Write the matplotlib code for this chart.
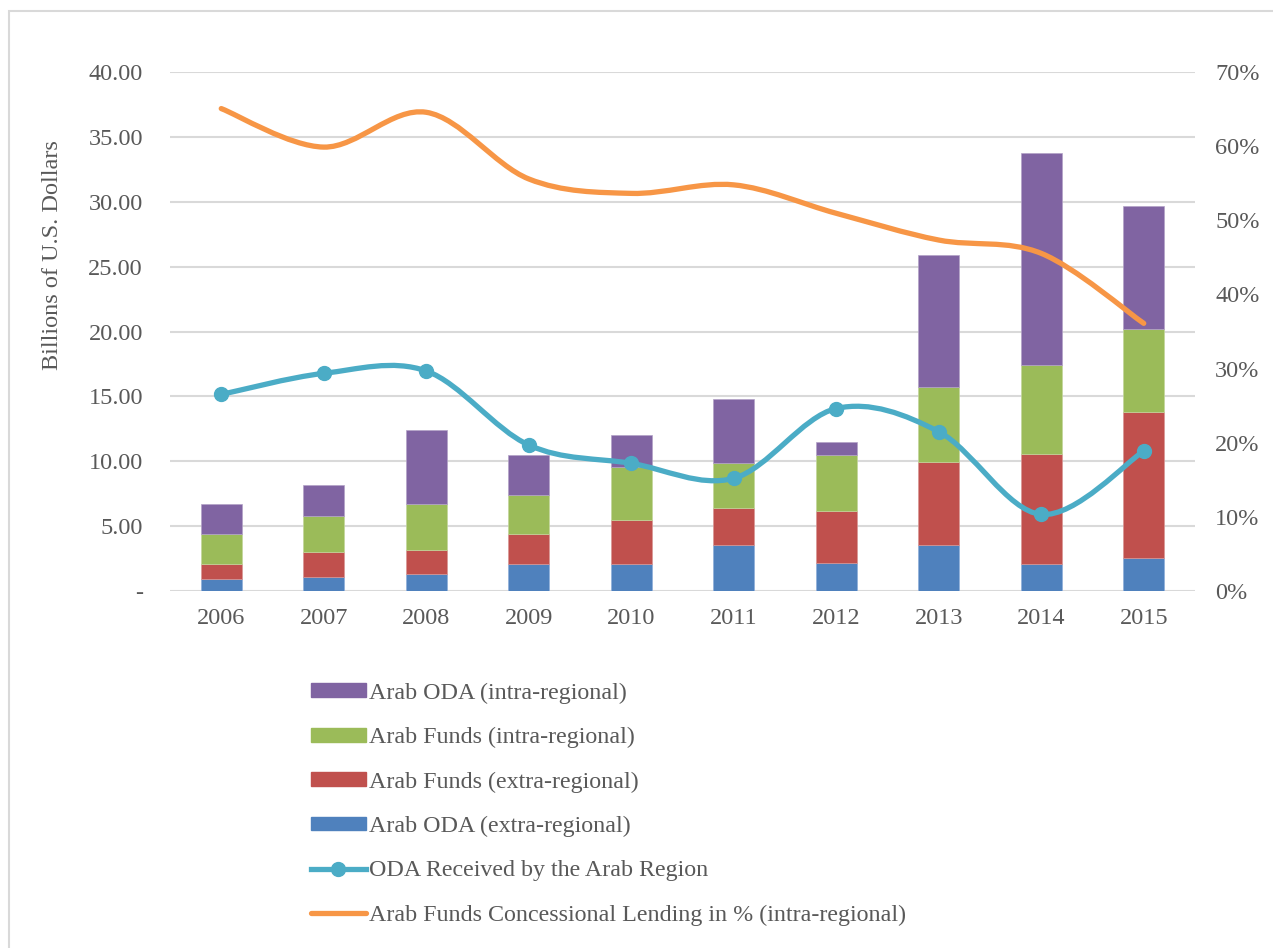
import numpy as np
import matplotlib.pyplot as plt
from matplotlib.path import Path
from matplotlib.patches import PathPatch, Patch, Rectangle
from matplotlib.lines import Line2D

plt.rcParams['font.family'] = ['Liberation Serif', 'DejaVu Serif']

### Data (billions of USD, stacked bottom -> top)
years = ['2006', '2007', '2008', '2009', '2010', '2011', '2012', '2013', '2014', '2015']
oda_extra = [0.88, 1.08, 1.26, 2.03, 2.03, 3.49, 2.11, 3.49, 2.05, 2.52]
funds_extra = [1.17, 1.87, 1.89, 2.35, 3.43, 2.89, 4.04, 6.46, 8.49, 11.30]
funds_intra = [2.29, 2.82, 3.57, 3.03, 4.08, 3.47, 4.29, 5.80, 6.90, 6.38]
oda_intra = [2.38, 2.41, 5.70, 3.08, 2.51, 4.95, 1.02, 10.15, 16.36, 9.52]

### Lines (right axis, %)
oda_received = [26.5, 29.35, 29.67, 19.67, 17.2, 15.18, 24.6, 21.47, 10.3, 18.86]
concessional = [65.1, 59.9, 64.6, 55.6, 53.65, 54.8, 50.96, 47.35, 45.55, 36.1]

c_blue = '#4F81BD'
c_red = '#C0504D'
c_green = '#9BBB59'
c_purple = '#8064A2'
c_teal = '#4BACC6'
c_orange = '#F79646'
c_grid = '#D9D9D9'
c_text = '#595959'
fs = 17.5


def smooth_path(xs, ys):
    # Catmull-Rom style smoothing drawn as cubic Bezier segments
    pts = np.column_stack([xs, ys]).astype(float)
    n = len(pts)
    verts = [pts[0]]
    codes = [Path.MOVETO]
    for i in range(n - 1):
        p0 = pts[i - 1] if i > 0 else pts[i]
        p1 = pts[i]
        p2 = pts[i + 1]
        p3 = pts[i + 2] if i + 2 < n else pts[i + 1]
        c1 = p1 + (p2 - p0) / 6.0
        c2 = p2 - (p3 - p1) / 6.0
        verts += [c1, c2, p2]
        codes += [Path.CURVE4] * 3
    return Path(verts, codes)


W, H = 1273, 948
fig = plt.figure(figsize=(W / 100, H / 100), dpi=100)
ax = fig.add_axes([170 / W, (H - 590.7) / H, 1025 / W, 518.4 / H])

x = np.arange(len(years))
bw = 0.4
b1 = np.array(oda_extra)
b2 = b1 + np.array(funds_extra)
b3 = b2 + np.array(funds_intra)
ax.bar(x, oda_extra, bw, color=c_blue, edgecolor='#8FAEDA', lw=0.5, zorder=2)
ax.bar(x, funds_extra, bw, bottom=b1, color=c_red, edgecolor='#D99694', lw=0.5, zorder=2)
ax.bar(x, funds_intra, bw, bottom=b2, color=c_green, edgecolor='#C3D69B', lw=0.5, zorder=2)
ax.bar(x, oda_intra, bw, bottom=b3, color=c_purple, edgecolor='#B3A2C7', lw=0.5, zorder=2)

ax.set_xlim(-0.5, len(years) - 0.5)
ax.set_ylim(0, 40)
ax.set_yticks(np.arange(0, 41, 5))
ax.set_yticklabels(['-'] + ['%.2f' % v for v in np.arange(5, 41, 5)])
ax.set_xticks(x)
ax.set_xticklabels(years)
ax.grid(axis='y', color=c_grid, lw=1.5, zorder=0)
ax.set_axisbelow(True)
for s in ax.spines.values():
    s.set_visible(False)
ax.tick_params(axis='y', length=0, pad=19.5, labelsize=fs, labelcolor=c_text)
ax.tick_params(axis='x', length=0, pad=12.5, labelsize=fs, labelcolor=c_text)
ax.set_ylabel('Billions of U.S. Dollars', fontsize=fs, color=c_text)
ax.yaxis.set_label_coords((63 - 170) / 1025, (590.7 - 255) / 518.4)

ax2 = ax.twinx()
ax2.set_ylim(0, 70)
ax2.set_yticks(np.arange(0, 71, 10))
ax2.set_yticklabels(['%d%%' % v for v in range(0, 71, 10)])
for s in ax2.spines.values():
    s.set_visible(False)
ax2.tick_params(axis='y', length=0, pad=14.5, labelsize=fs, labelcolor=c_text)

ax2.add_patch(PathPatch(smooth_path(x, concessional), fill=False, edgecolor=c_orange,
                        lw=3.8, capstyle='round', joinstyle='round', zorder=3))
ax2.add_patch(PathPatch(smooth_path(x, oda_received), fill=False, edgecolor=c_teal,
                        lw=3.8, capstyle='round', joinstyle='round', zorder=3))
ax2.plot(x, oda_received, 'o', color=c_teal, ms=10, zorder=4)

# chart border (cropped on right and bottom)
fig.patches.append(Rectangle((9 / W, -0.1), 1.2, 1.1 - 11 / H, transform=fig.transFigure,
                             fill=False, edgecolor=c_grid, lw=1.5))

handles = [
    Patch(color=c_purple),
    Patch(color=c_green),
    Patch(color=c_red),
    Patch(color=c_blue),
    Line2D([], [], color=c_teal, lw=3.8, marker='o', ms=10),
    Line2D([], [], color=c_orange, lw=3.8, solid_capstyle='round'),
]
labels = [
    'Arab ODA (intra-regional)',
    'Arab Funds (intra-regional)',
    'Arab Funds (extra-regional)',
    'Arab ODA (extra-regional)',
    'ODA Received by the Arab Region',
    'Arab Funds Concessional Lending in % (intra-regional)',
]
fig.legend(handles, labels, loc='upper left', bbox_to_anchor=(311 / W, 1 - 682.5 / H),
           frameon=False, fontsize=17.3, labelcolor=c_text, handlelength=2.28,
           handleheight=0.5, handletextpad=0.15, labelspacing=0.97, borderaxespad=0,
           borderpad=0)

fig.savefig('out.png', dpi=100)
